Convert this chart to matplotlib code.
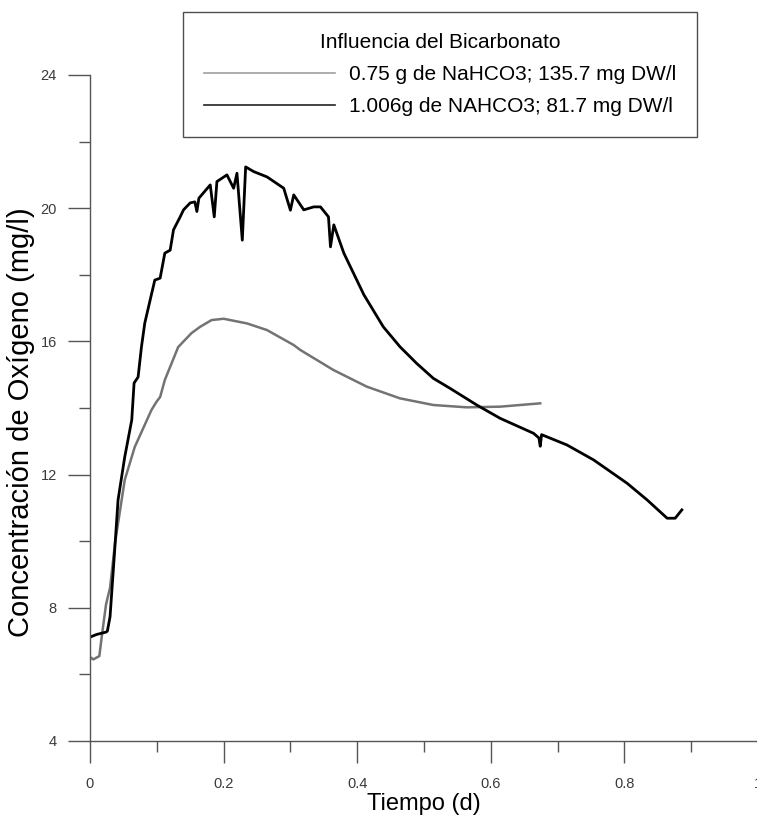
import matplotlib
matplotlib.use('Agg')
import matplotlib.pyplot as plt
from matplotlib.lines import Line2D
from matplotlib.ticker import MultipleLocator

plt.rcParams['font.family'] = ['Liberation Sans', 'DejaVu Sans']

# ── Data ─────────────────────────────────────────────────────────────────────
# 1.006 g NaHCO3 run (black)
black_t = [0.000, 0.010, 0.024, 0.026, 0.030, 0.037, 0.042, 0.052, 0.0625,
           0.066, 0.072, 0.077, 0.082, 0.090, 0.097, 0.105, 0.112, 0.120,
           0.125, 0.135, 0.140, 0.150, 0.157, 0.160, 0.163, 0.180, 0.186,
           0.190, 0.205, 0.215, 0.220, 0.228, 0.233, 0.245, 0.265, 0.290,
           0.300, 0.305, 0.320, 0.335, 0.345, 0.357, 0.360, 0.365, 0.380,
           0.410, 0.439, 0.464, 0.489, 0.514, 0.539, 0.579, 0.614, 0.664,
           0.672, 0.674, 0.676, 0.714, 0.754, 0.804, 0.834, 0.864, 0.876,
           0.886]
black_o2 = [7.12, 7.20, 7.27, 7.30, 7.73, 9.74, 11.24, 12.53, 13.64,
            14.75, 14.93, 15.83, 16.55, 17.24, 17.84, 17.90, 18.65, 18.74,
            19.35, 19.74, 19.95, 20.16, 20.19, 19.90, 20.30, 20.70, 19.74,
            20.80, 21.00, 20.60, 21.05, 19.04, 21.24, 21.10, 20.94, 20.60,
            19.94, 20.40, 19.95, 20.04, 20.04, 19.74, 18.84, 19.50, 18.65,
            17.40, 16.44, 15.84, 15.34, 14.89, 14.59, 14.09, 13.69, 13.24,
            13.10, 12.85, 13.20, 12.89, 12.44, 11.74, 11.24, 10.69, 10.69,
            10.94]

# 0.75 g NaHCO3 run (gray)
gray_t = [0.000, 0.005, 0.014, 0.018, 0.024, 0.030, 0.0375, 0.052, 0.067,
          0.092, 0.100, 0.105, 0.112, 0.132, 0.152, 0.165, 0.182, 0.200,
          0.235, 0.265, 0.305, 0.315, 0.3645, 0.4145, 0.464, 0.514, 0.564,
          0.614, 0.674]
gray_o2 = [6.52, 6.45, 6.55, 7.20, 8.10, 8.60, 9.95, 11.84, 12.83,
           13.94, 14.20, 14.33, 14.84, 15.83, 16.25, 16.44, 16.64, 16.68,
           16.54, 16.34, 15.89, 15.74, 15.14, 14.64, 14.29, 14.09, 14.02,
           14.04, 14.14]

labels = ['0.75 g de NaHCO3; 135.7 mg DW/l', '1.006g de NAHCO3; 81.7 mg DW/l']
legend_title = 'Influencia del Bicarbonato'

SPINE = '#555555'
GRAY = '#737373'


def main():
    fig = plt.figure(figsize=(7.57, 8.18), dpi=100)
    ax = fig.add_axes([90 / 757, 77 / 818, 668 / 757, 666 / 818])

    ax.plot(gray_t, gray_o2, color=GRAY, lw=1.8)
    ax.plot(black_t, black_o2, color='black', lw=2.0)

    ax.set_xlim(0, 1)
    ax.set_ylim(4, 24)
    ax.xaxis.set_minor_locator(MultipleLocator(0.1))
    ax.yaxis.set_major_locator(MultipleLocator(4))
    ax.yaxis.set_minor_locator(MultipleLocator(2))
    ax.set_xticks([0, 0.2, 0.4, 0.6, 0.8, 1.0])
    ax.set_xticklabels(['0', '0.2', '0.4', '0.6', '0.8', '1'])

    for s in ['top', 'right']:
        ax.spines[s].set_visible(False)
    for s in ['left', 'bottom']:
        ax.spines[s].set_color(SPINE)
        ax.spines[s].set_linewidth(1.0)
    ax.tick_params(which='major', length=16, width=1.0, color=SPINE,
                   labelsize=10.5, labelcolor='#3a3a3a', direction='out')
    ax.tick_params(which='minor', length=8, width=1.0, color=SPINE,
                   direction='out')
    ax.tick_params(axis='y', which='major', pad=8)
    ax.tick_params(axis='x', which='major', pad=10)

    ax.set_xlabel('Tiempo (d)', fontsize=17)
    ax.set_ylabel('Concentración de Oxígeno (mg/l)', fontsize=21)
    ax.xaxis.set_label_coords(0.5, -0.078)
    ax.yaxis.set_label_coords(-0.082, 0.478)

    handles = [Line2D([], [], color='#a0a0a0', lw=1.2),
               Line2D([], [], color='#222222', lw=1.2)]
    leg = ax.legend(handles, labels, title=legend_title,
                    loc='upper left', bbox_to_anchor=(183 / 757, 1 - 12 / 818),
                    bbox_transform=fig.transFigure, fontsize=15,
                    title_fontsize=15, frameon=True, fancybox=False,
                    edgecolor='#222222', handlelength=6.3,
                    handletextpad=0.67, borderpad=1.0, labelspacing=0.64,
                    borderaxespad=0)
    leg.get_frame().set_linewidth(1.0)
    leg.set_zorder(5)

    fig.savefig('out.png', dpi=100)
    plt.close(fig)


if __name__ == "__main__":
    main()
